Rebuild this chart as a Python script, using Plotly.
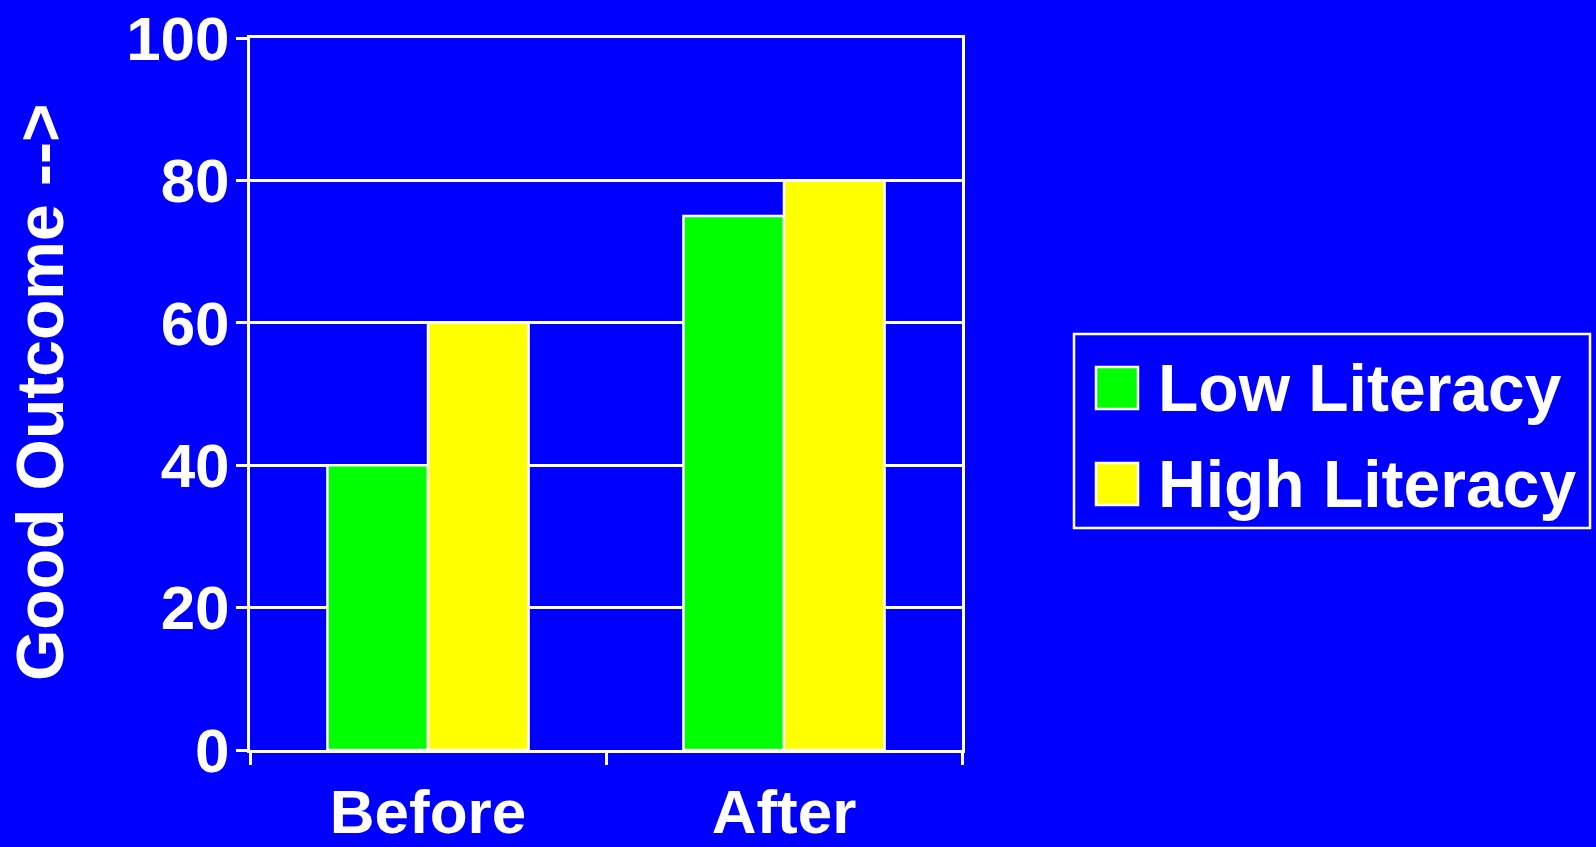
import plotly.graph_objects as go

# Data
categories = ["Before", "After"]
series_names = ["Low Literacy", "High Literacy"]
low_literacy = [40, 75]
high_literacy = [60, 80]
y_ticks = [0, 20, 40, 60, 80, 100]
y_title = "Good Outcome -->"

colors = ["#00FF00", "#FFFF00"]
bg = "#0000FF"
font_family = "Liberation Sans, Arial, sans-serif"

W, H = 1596, 847
L, R, T, B = 250, 634, 38, 97
plot_w = W - L - R
plot_h = H - T - B


def px(x):
    return (x - L) / plot_w


def py(y):
    return (H - B - y) / plot_h


fig = go.Figure()
for name, vals, col in zip(series_names, [low_literacy, high_literacy], colors):
    fig.add_trace(go.Bar(
        x=categories, y=vals, name=name,
        marker=dict(color=col, line=dict(color="white", width=2.5)),
        showlegend=False,
    ))

# Hand-built legend box with large swatches
shapes = [dict(type="rect", xref="paper", yref="paper",
               x0=px(1074), x1=px(1590), y0=py(528), y1=py(334),
               line=dict(color="white", width=2.5), fillcolor=bg, layer="above")]
annotations = []
swatch_tops = [367, 463]
text_mid = [388, 484]
for name, col, top, mid in zip(series_names, colors, swatch_tops, text_mid):
    shapes.append(dict(type="rect", xref="paper", yref="paper",
                       x0=px(1096), x1=px(1138), y0=py(top + 42), y1=py(top),
                       line=dict(color="white", width=2.5), fillcolor=col, layer="above"))
    annotations.append(dict(xref="paper", yref="paper", x=px(1156), y=py(mid),
                            xanchor="left", yanchor="middle", showarrow=False,
                            text=name, font=dict(family=font_family, size=66,
                                                 color="white", weight="bold")))

# Y axis title
annotations.append(dict(xref="paper", yref="paper", x=px(40), y=py(392),
                        xanchor="center", yanchor="middle", showarrow=False,
                        text=y_title, textangle=-90,
                        font=dict(family=font_family, size=66, color="white",
                                  weight="bold")))

fig.update_layout(
    width=W, height=H,
    margin=dict(l=L, r=R, t=T, b=B, pad=0),
    paper_bgcolor=bg, plot_bgcolor=bg,
    barmode="group", bargap=0.435, bargroupgap=0,
    font=dict(family=font_family, color="white", weight="bold"),
    shapes=shapes, annotations=annotations,
    showlegend=False,
)
fig.update_xaxes(
    type="category", showline=True, linecolor="white", linewidth=3, mirror=True,
    ticks="outside", tickson="boundaries", ticklen=12, tickwidth=2.5, tickcolor="white",
    showgrid=False, automargin=False,
    tickfont=dict(size=62, color="white", family=font_family, weight="bold"),
    ticklabelstandoff=6,
)
fig.update_yaxes(
    range=[0, 100], tickvals=y_ticks, showline=True, linecolor="white", linewidth=3,
    mirror=True, ticks="outside", ticklen=11, tickwidth=2.5, tickcolor="white",
    showgrid=True, gridcolor="white", gridwidth=2.5, zeroline=False, automargin=False,
    tickfont=dict(size=62, color="white", family=font_family, weight="bold"),
    ticklabelstandoff=-6,
)

fig.write_html("out.html")
